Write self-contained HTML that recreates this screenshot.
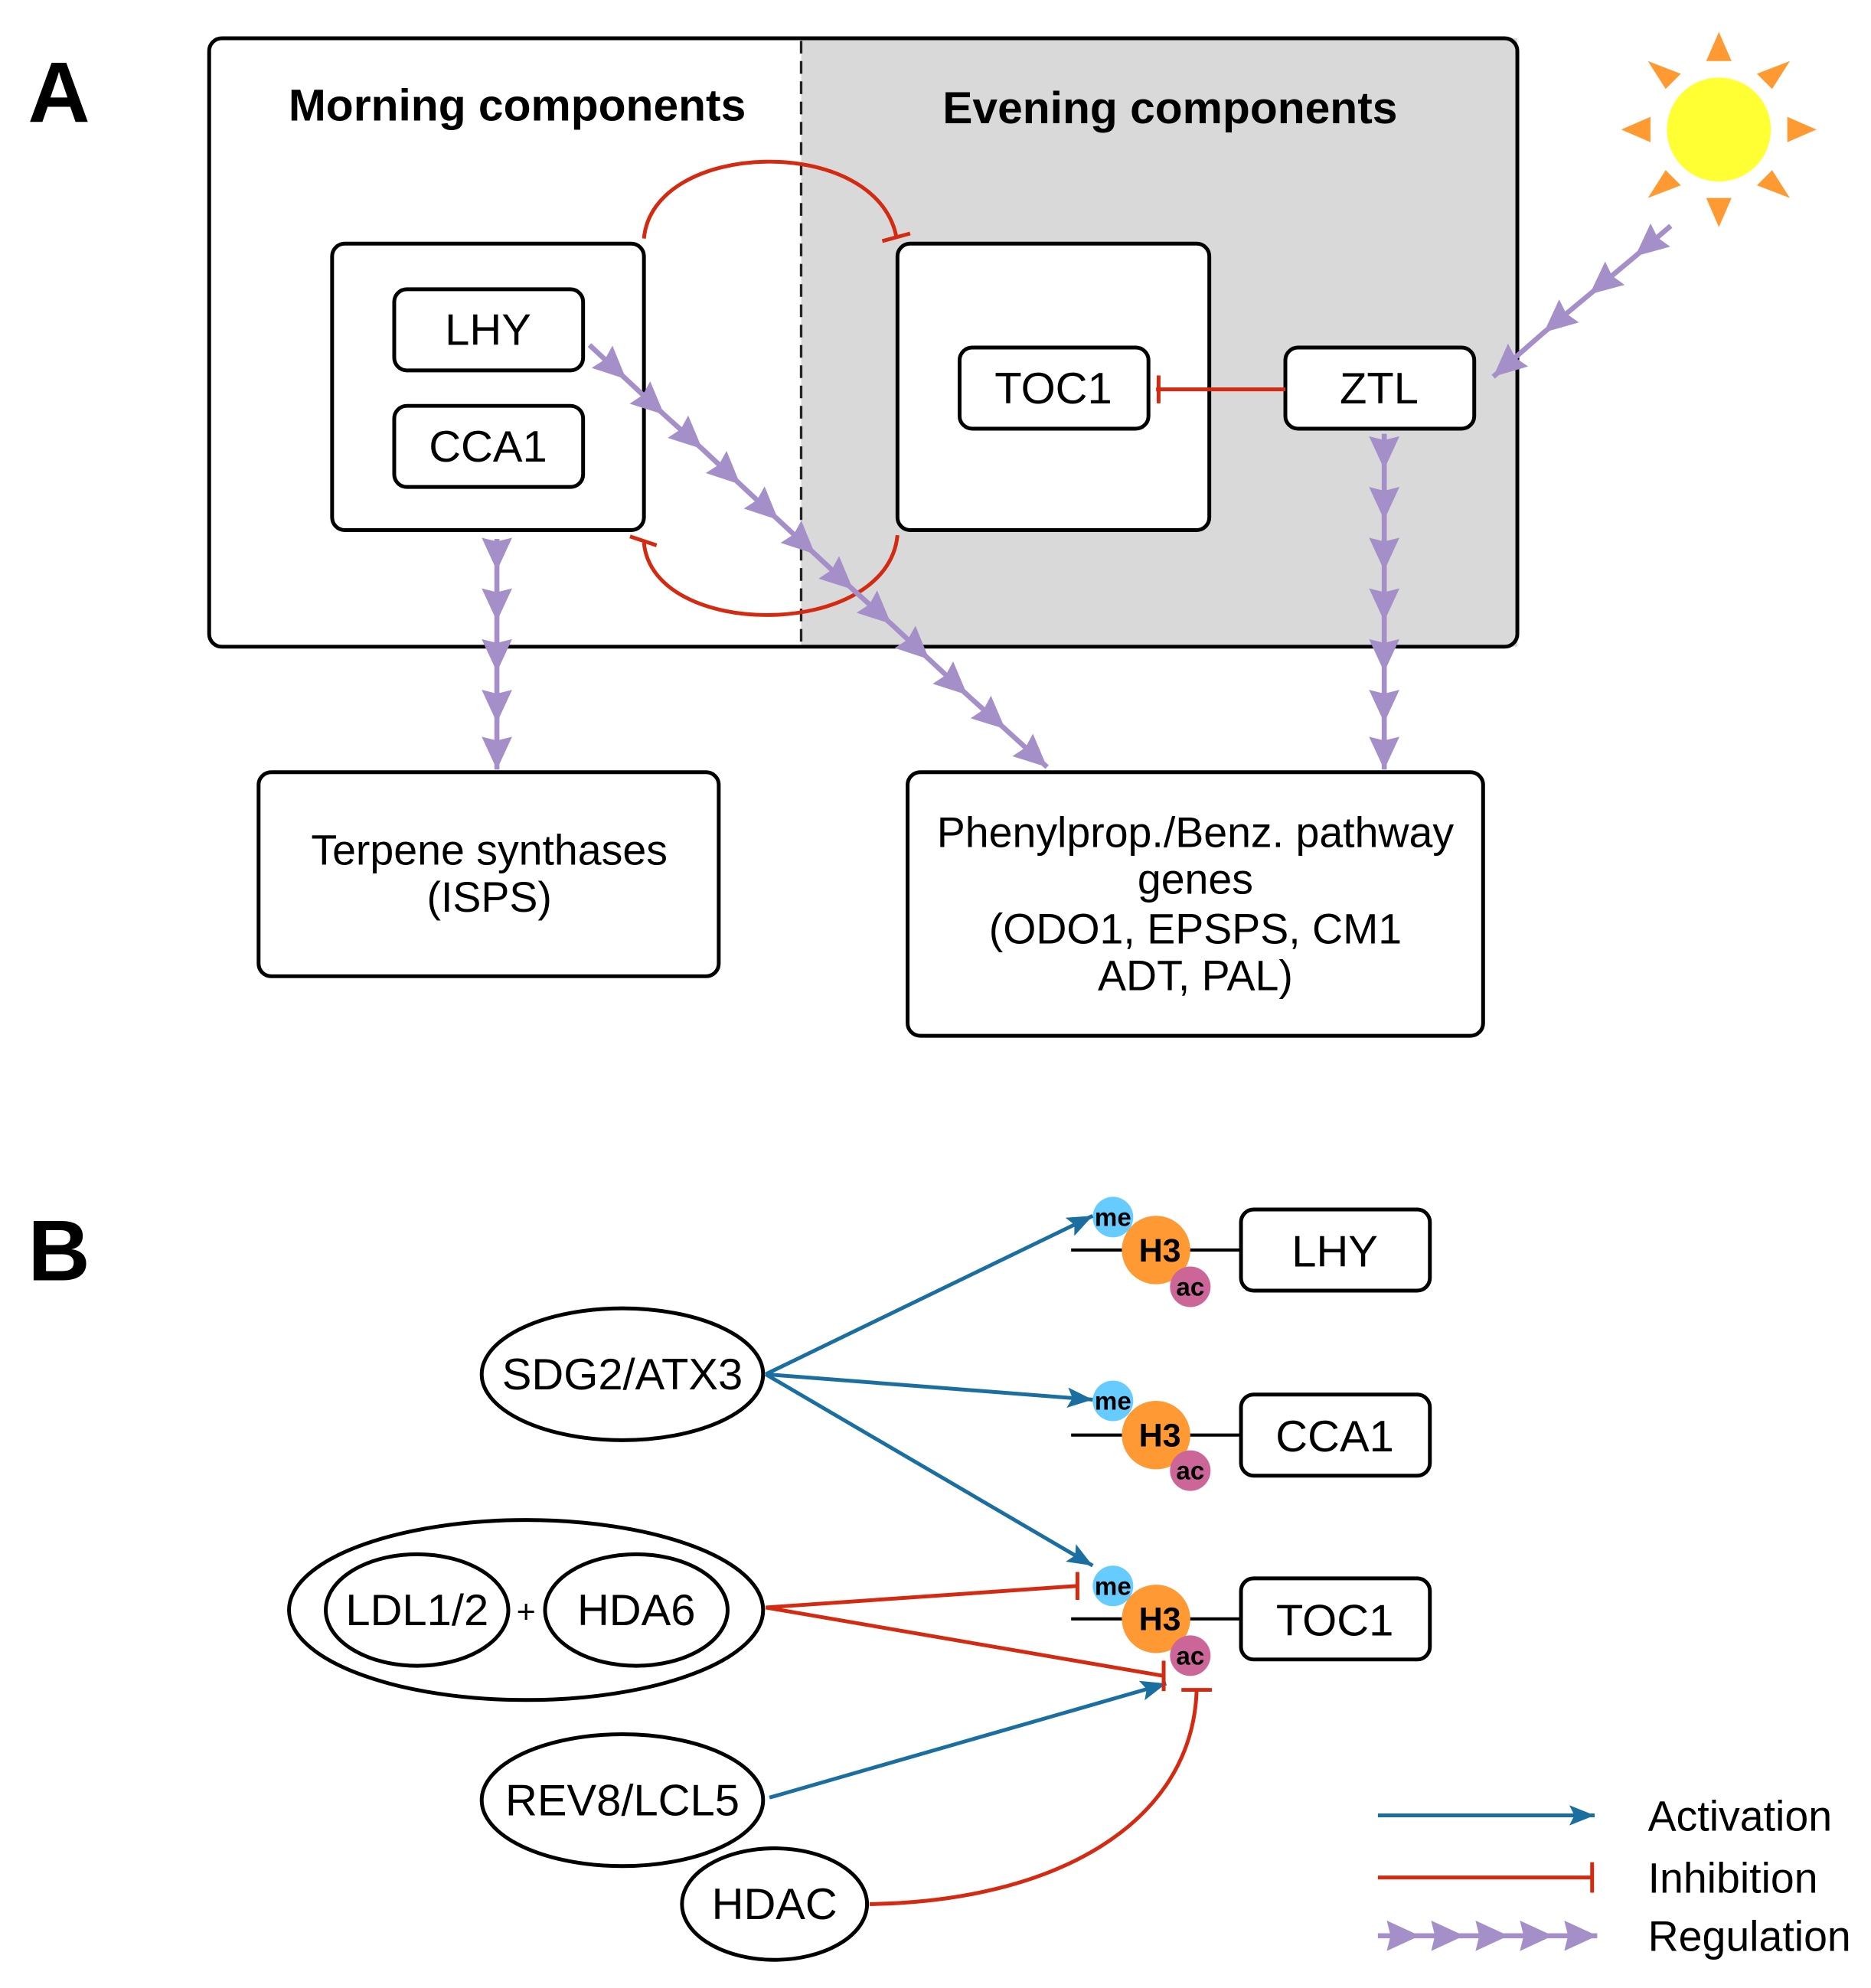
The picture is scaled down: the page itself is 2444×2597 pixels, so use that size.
<!DOCTYPE html>
<html><head><meta charset="utf-8"><style>html,body{margin:0;padding:0;background:#fff}svg{display:block}</style></head>
<body>
<svg width="2444" height="2597" viewBox="0 0 1476 1568" xmlns="http://www.w3.org/2000/svg" font-family="Liberation Sans, sans-serif">
<defs>
<marker id="reg" markerUnits="userSpaceOnUse" markerWidth="28" markerHeight="26" refX="26" refY="12" orient="auto"><path d="M0,0 L26,12 L0,24 L3,12 z" fill="#a58fc8"/></marker>
<marker id="act" markerUnits="userSpaceOnUse" markerWidth="22" markerHeight="16" refX="20" refY="8" orient="auto"><path d="M0,0 L20,8 L0,16 L4,8 z" fill="#1a6fa0"/></marker>
</defs>
<text x="22" y="96" font-size="68" font-weight="bold">A</text>
<text x="22" y="1010" font-size="68" font-weight="bold">B</text>
<rect x="632" y="30" width="565" height="480" fill="#d9d9d9"/>
<rect x="165" y="30" width="1032" height="480" rx="10" fill="none" stroke="#000" stroke-width="3"/>
<line x1="632" y1="32" x2="632" y2="508" stroke="#222" stroke-width="2" stroke-dasharray="10,6"/>
<text x="408" y="95" font-size="35.5" font-weight="bold" text-anchor="middle">Morning components</text>
<text x="923" y="97" font-size="35.5" font-weight="bold" text-anchor="middle">Evening components</text>
<g fill="#fff" stroke="#000" stroke-width="3">
<rect x="262" y="192" width="246" height="226" rx="10"/>
<rect x="311" y="228" width="149" height="64" rx="10"/>
<rect x="311" y="320" width="149" height="64" rx="10"/>
<rect x="708" y="192" width="246" height="226" rx="10"/>
<rect x="757" y="274" width="149" height="64" rx="10"/>
<rect x="1014" y="274" width="149" height="64" rx="10"/>
<rect x="204" y="609" width="363" height="161" rx="10"/>
<rect x="716" y="609" width="454" height="208" rx="10"/>
</g>
<g font-size="35" text-anchor="middle">
<text x="385" y="272">LHY</text><text x="385" y="364">CCA1</text>
<text x="831" y="318">TOC1</text><text x="1088" y="318">ZTL</text>
</g>
<g font-size="33.5" text-anchor="middle">
<text x="386" y="682">Terpene synthases</text><text x="386" y="719">(ISPS)</text>
<text x="943" y="668">Phenylprop./Benz. pathway</text><text x="943" y="705">genes</text>
<text x="943" y="744">(ODO1, EPSPS, CM1</text><text x="943" y="781">ADT, PAL)</text>
</g>
<g stroke="#d42a12" stroke-width="3" fill="none">
<line x1="1014" y1="307" x2="912" y2="307"/><line x1="914" y1="296" x2="914" y2="318"/>
<path d="M508,188 C515,110 690,105 707,186"/><line x1="696" y1="190" x2="718" y2="184"/>
<path d="M708,422 C700,505 515,505 508,428"/><line x1="497" y1="423" x2="518" y2="430"/>
</g>
<ellipse cx="1356" cy="102" rx="41" ry="41" fill="#ffff33"/>
<g fill="#ff9a33">
<path d="M1346,48 L1366,48 L1356,25 z"/><path d="M1346,156 L1366,156 L1356,179 z"/>
<path d="M1302,92 L1302,112 L1279,102 z"/><path d="M1410,92 L1410,112 L1433,102 z"/>
<path d="M1300,48 L1326,58 L1314,70 z"/><path d="M1412,48 L1386,58 L1398,70 z"/>
<path d="M1300,156 L1326,146 L1314,134 z"/><path d="M1412,156 L1386,146 L1398,134 z"/>
</g>
<g stroke="#a58fc8" stroke-width="4" fill="none" marker-mid="url(#reg)" marker-end="url(#reg)">
<polyline points="1318,178 1290,202 1254,232 1218,262 1178,297"/>
<polyline points="465,272 494,299 524,327 554,354 584,382 614,410 643,437 673,465 703,492 733,520 763,548 793,575 826,605"/>
<polyline points="392,425 392,450 392,490 392,530 392,570 392,607"/>
<polyline points="1092,342 1092,370 1092,410 1092,450 1092,490 1092,530 1092,570 1092,607"/>
<polyline points="1087,1527 1120,1527 1155,1527 1190,1527 1225,1527 1260,1527"/>
</g>
<g fill="#fff" stroke="#000" stroke-width="3">
<ellipse cx="491" cy="1084" rx="111" ry="52"/>
<ellipse cx="415" cy="1270" rx="187" ry="71"/>
<ellipse cx="329" cy="1270" rx="72" ry="44"/>
<ellipse cx="502" cy="1270" rx="72" ry="44"/>
<ellipse cx="491" cy="1420" rx="111" ry="52"/>
<ellipse cx="611" cy="1502" rx="73" ry="44"/>
</g>
<g font-size="35" text-anchor="middle">
<text x="491" y="1096">SDG2/ATX3</text>
<text x="329" y="1282">LDL1/2</text><text x="502" y="1282">HDA6</text>
<text x="415" y="1280" font-size="26">+</text>
<text x="491" y="1432">REV8/LCL5</text>
<text x="611" y="1514">HDAC</text>
</g>
<g stroke="#000" stroke-width="2.5"><line x1="845" y1="986" x2="980" y2="986"/><line x1="845" y1="1132" x2="980" y2="1132"/><line x1="845" y1="1277" x2="980" y2="1277"/></g>
<g fill="#fff" stroke="#000" stroke-width="3">
<rect x="979" y="954" width="149" height="64" rx="10"/>
<rect x="979" y="1100" width="149" height="64" rx="10"/>
<rect x="979" y="1245" width="149" height="64" rx="10"/>
</g>
<g font-size="35" text-anchor="middle">
<text x="1053" y="999">LHY</text><text x="1053" y="1145">CCA1</text><text x="1053" y="1290">TOC1</text>
</g>
<g font-weight="bold" text-anchor="middle">
<circle cx="878" cy="960" r="16" fill="#66ccff"/><circle cx="912" cy="986" r="27" fill="#ff9933"/><circle cx="939" cy="1015" r="16" fill="#cc6699"/>
<text x="878" y="967" font-size="20">me</text><text x="915" y="995" font-size="26">H3</text><text x="939" y="1022" font-size="20">ac</text>
<circle cx="878" cy="1105" r="16" fill="#66ccff"/><circle cx="912" cy="1132" r="27" fill="#ff9933"/><circle cx="939" cy="1160" r="16" fill="#cc6699"/>
<text x="878" y="1112" font-size="20">me</text><text x="915" y="1141" font-size="26">H3</text><text x="939" y="1167" font-size="20">ac</text>
<circle cx="878" cy="1251" r="16" fill="#66ccff"/><circle cx="912" cy="1277" r="27" fill="#ff9933"/><circle cx="939" cy="1306" r="16" fill="#cc6699"/>
<text x="878" y="1258" font-size="20">me</text><text x="915" y="1286" font-size="26">H3</text><text x="939" y="1313" font-size="20">ac</text>
</g>
<g stroke="#1a6fa0" stroke-width="3" fill="none" marker-end="url(#act)">
<line x1="604" y1="1084" x2="862" y2="959"/>
<line x1="604" y1="1084" x2="862" y2="1104"/>
<line x1="604" y1="1084" x2="862" y2="1235"/>
<line x1="607" y1="1418" x2="920" y2="1328"/>
<line x1="1087" y1="1432" x2="1258" y2="1432"/>
</g>
<g stroke="#d42a12" stroke-width="3" fill="none">
<line x1="604" y1="1268" x2="850" y2="1251"/><line x1="850" y1="1240" x2="850" y2="1262"/>
<line x1="604" y1="1268" x2="918" y2="1322"/><line x1="918" y1="1310" x2="918" y2="1334"/>
<path d="M686,1502 C830,1500 940,1440 944,1334"/><line x1="932" y1="1333" x2="956" y2="1333"/>
<line x1="1087" y1="1481" x2="1256" y2="1481"/><line x1="1256" y1="1469" x2="1256" y2="1493"/>
</g>
<g font-size="33.5">
<text x="1300" y="1444">Activation</text><text x="1300" y="1493">Inhibition</text><text x="1300" y="1539">Regulation</text>
</g>
</svg>
</body></html>
